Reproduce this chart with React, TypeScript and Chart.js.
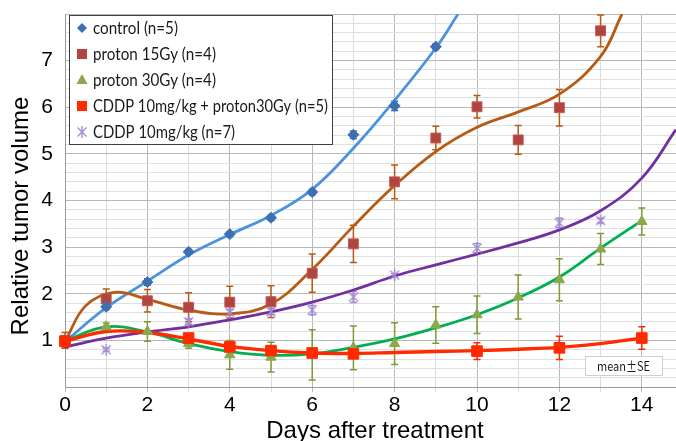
import React, { useEffect, useRef } from 'react';
import { Chart, registerables } from 'chart.js';

Chart.register(...registerables);

// ---------- data ----------
const days = [0, 1, 2, 3, 4, 5, 6, 7, 8, 9, 10, 11, 12, 13, 14];

const seriesLabels = [
  'control (n=5)',
  'proton 15Gy (n=4)',
  'proton 30Gy (n=4)',
  'CDDP 10mg/kg + proton30Gy (n=5)',
  'CDDP 10mg/kg (n=7)',
];

const controlMean = [1.0, 1.72, 2.25, 2.9, 3.28, 3.63, 4.18, 5.41, 6.03, 7.3, null, null, null, null, null];
const controlSE = [0.05, 0.06, 0.07, 0.05, 0.05, 0.06, 0.06, 0.08, 0.1, 0.06, null, null, null, null, null];

const proton15Mean = [1.0, 1.89, 1.85, 1.71, 1.82, 1.83, 2.44, 3.07, 4.4, 5.34, 6.01, 5.3, 5.99, 7.64, null];
const proton15SE = [0.17, 0.21, 0.24, 0.31, 0.34, 0.34, 0.41, 0.4, 0.36, 0.25, 0.24, 0.31, 0.39, 0.34, null];

const proton30Mean = [1.0, 1.29, 1.19, 0.93, 0.69, 0.64, 0.69, 0.84, 0.93, 1.33, 1.55, 1.93, 2.3, 2.96, 3.55];
const proton30SE = [0.1, 0.08, 0.21, 0.1, 0.31, 0.32, 0.54, 0.47, 0.45, 0.39, 0.4, 0.47, 0.45, 0.33, 0.29];

const comboMean = [0.98, null, null, 1.05, 0.86, 0.78, 0.73, 0.71, null, null, 0.77, null, 0.84, null, 1.05];
const comboSE = [0.12, null, null, 0.08, 0.08, 0.1, 0.06, 0.06, null, null, 0.18, null, 0.25, null, 0.24];

const cddpMean = [1.0, 0.8, null, 1.4, 1.6, 1.62, 1.65, 1.93, 2.4, null, 2.98, null, 3.52, 3.57, null];
const cddpSE = [0.05, 0.03, null, 0.06, 0.06, 0.07, 0.1, 0.12, 0.03, null, 0.1, null, 0.1, 0.05, null];

// trend curves
const controlFitX = [0, 1, 2, 3, 4, 5, 6, 7, 8, 9, 9.54];
const controlFitY = [0.97, 1.7, 2.27, 2.83, 3.27, 3.68, 4.24, 5.12, 6.15, 7.27, 8.0];

const proton15FitX = [0, 0.5, 1.2, 2, 3, 4, 5, 6, 7, 8, 9, 10, 11, 12, 13, 13.52];
const proton15FitY = [0.97, 1.74, 2.03, 1.88, 1.65, 1.57, 1.78, 2.52, 3.45, 4.32, 5.05, 5.57, 5.9, 6.28, 7.09, 8.0];

const proton30FitX = [0, 1, 2, 3, 4, 5, 6, 7, 8, 9, 10, 11, 12, 13, 14];
const proton30FitY = [0.99, 1.29, 1.18, 0.93, 0.76, 0.68, 0.71, 0.85, 1.03, 1.27, 1.55, 1.91, 2.36, 2.98, 3.57];

const comboFitX = [0, 1, 2, 3, 4, 5, 6, 7, 8, 9, 10, 11, 12, 13, 14];
const comboFitY = [0.98, 1.19, 1.17, 1.03, 0.87, 0.78, 0.73, 0.72, 0.74, 0.76, 0.78, 0.81, 0.85, 0.93, 1.05];

const cddpFitX = [0, 1, 2, 3, 4, 5, 6, 7, 8, 9, 10, 11, 12, 13, 14, 14.83];
const cddpFitY = [0.86, 1.05, 1.18, 1.29, 1.44, 1.61, 1.82, 2.08, 2.38, 2.62, 2.85, 3.09, 3.37, 3.78, 4.48, 5.52];

const xTickLabels = ['0', '2', '4', '6', '8', '10', '12', '14'];
const yTickLabels = ['1', '2', '3', '4', '5', '6', '7'];
const xAxisTitle = 'Days after treatment';
const yAxisTitle = 'Relative tumor volume';
const noteText = 'mean±SE';

// ---------- styling ----------
const COLORS = {
  controlMarker: '#3d6fb3',
  controlLine: '#4b93dc',
  p15Marker: '#b1443f',
  p15Line: '#b65a14',
  p30Marker: '#8aa84c',
  p30Err: '#7c9a3a',
  p30Line: '#00b050',
  comboMarker: '#ff2a00',
  comboLine: '#ff2a00',
  cddpMarker: '#a48ad2',
  cddpLine: '#7030a0',
};

const X_MIN = 0;
const X_MAX = 14.83;
const Y_MIN = 0;
const Y_MAX = 8;

function toPoints(xs: number[], ys: (number | null)[]) {
  const out: { x: number; y: number }[] = [];
  ys.forEach((v, i) => {
    if (v !== null && v !== undefined) out.push({ x: xs[i], y: v });
  });
  return out;
}

function makeStar(color: string) {
  const c = document.createElement('canvas');
  c.width = 14;
  c.height = 14;
  const g = c.getContext('2d')!;
  g.strokeStyle = color;
  g.lineWidth = 1.4;
  g.beginPath();
  g.moveTo(2.5, 2.5);
  g.lineTo(11.5, 11.5);
  g.moveTo(11.5, 2.5);
  g.lineTo(2.5, 11.5);
  g.moveTo(7, 1);
  g.lineTo(7, 13);
  g.stroke();
  return c;
}

const isInt = (v: number) => Math.abs(v - Math.round(v)) < 1e-6;
const zeroPad = () => ({ left: 0, right: 0, top: 0, bottom: 0 });

export default function App() {
  const ref = useRef<HTMLCanvasElement>(null);

  useEffect(() => {
    document.body.style.margin = '0';
    const star = makeStar(COLORS.cddpMarker);

    const errSeries = [
      { mean: controlMean, se: controlSE, color: COLORS.controlMarker },
      { mean: proton15Mean, se: proton15SE, color: COLORS.p15Line },
      { mean: proton30Mean, se: proton30SE, color: COLORS.p30Err },
      { mean: cddpMean, se: cddpSE, color: COLORS.cddpMarker },
      { mean: comboMean, se: comboSE, color: COLORS.comboMarker },
    ];

    const errorBarPlugin = {
      id: 'errorBars',
      beforeDatasetsDraw(chart: any) {
        const { ctx, scales } = chart;
        const xs = scales.x;
        const ys = scales.y;
        ctx.save();
        ctx.lineWidth = 1.5;
        for (const s of errSeries) {
          ctx.strokeStyle = s.color;
          s.mean.forEach((m, i) => {
            const e = s.se[i];
            if (m === null || e === null) return;
            const px = xs.getPixelForValue(days[i]);
            const top = ys.getPixelForValue(Math.min(m + e, Y_MAX));
            const bot = ys.getPixelForValue(m - e);
            ctx.beginPath();
            ctx.moveTo(px, top);
            ctx.lineTo(px, bot);
            ctx.moveTo(px - 3.5, top);
            ctx.lineTo(px + 3.5, top);
            ctx.moveTo(px - 3.5, bot);
            ctx.lineTo(px + 3.5, bot);
            ctx.stroke();
          });
        }
        ctx.restore();
      },
    };

    const fitText = (ctx: CanvasRenderingContext2D, text: string, x: number, y: number, width: number) => {
      const w = ctx.measureText(text).width;
      const sx = Math.max(0.75, Math.min(1.25, width / w));
      ctx.save();
      ctx.translate(x, y);
      ctx.scale(sx, 1);
      ctx.fillText(text, 0, 0);
      ctx.restore();
    };

    const overlayPlugin = {
      id: 'overlay',
      afterDraw(chart: any) {
        const ctx: CanvasRenderingContext2D = chart.ctx;
        ctx.save();

        // legend box
        const lx = 69, ly = 15, lw = 263, lh = 129;
        ctx.fillStyle = '#ffffff';
        ctx.fillRect(lx, ly, lw, lh);
        ctx.strokeStyle = '#404040';
        ctx.lineWidth = 1;
        ctx.strokeRect(lx + 0.5, ly + 0.5, lw, lh);

        const rowsY = [28, 54, 80, 106, 132];
        const widths = [85, 123, 123, 235, 142];
        const mx = 82;
        rowsY.forEach((ry, i) => {
          ctx.save();
          if (i === 0) {
            ctx.fillStyle = COLORS.controlMarker;
            ctx.beginPath();
            ctx.moveTo(mx, ry - 5);
            ctx.lineTo(mx + 5, ry);
            ctx.lineTo(mx, ry + 5);
            ctx.lineTo(mx - 5, ry);
            ctx.closePath();
            ctx.fill();
          } else if (i === 1) {
            ctx.fillStyle = COLORS.p15Marker;
            ctx.fillRect(mx - 5, ry - 5, 10, 10);
          } else if (i === 2) {
            ctx.fillStyle = COLORS.p30Marker;
            ctx.beginPath();
            ctx.moveTo(mx, ry - 6);
            ctx.lineTo(mx + 5.5, ry + 4);
            ctx.lineTo(mx - 5.5, ry + 4);
            ctx.closePath();
            ctx.fill();
          } else if (i === 3) {
            ctx.fillStyle = COLORS.comboMarker;
            ctx.fillRect(mx - 5, ry - 5, 10, 10);
          } else {
            ctx.drawImage(star, mx - 7, ry - 7);
          }
          ctx.restore();
          ctx.fillStyle = '#1a1a1a';
          ctx.font = '17px Lato, "Open Sans", sans-serif';
          ctx.textBaseline = 'middle';
          ctx.textAlign = 'left';
          fitText(ctx, seriesLabels[i], 93, ry + 1, widths[i]);
        });

        // mean ± SE note
        ctx.fillStyle = '#ffffff';
        ctx.fillRect(585, 356, 77, 19);
        ctx.strokeStyle = '#cfcfcf';
        ctx.strokeRect(585.5, 356.5, 77, 19);
        ctx.fillStyle = '#1a1a1a';
        ctx.font = '13px "Noto Sans CJK JP", "Noto Sans", sans-serif';
        ctx.textBaseline = 'middle';
        fitText(ctx, noteText, 597, 366, 53);

        // axis titles
        ctx.fillStyle = '#000000';
        ctx.font = '24px "Liberation Sans", Arial, sans-serif';
        ctx.textAlign = 'center';
        ctx.textBaseline = 'alphabetic';
        ctx.fillText(xAxisTitle, 375, 438);
        ctx.save();
        ctx.translate(28, 216);
        ctx.rotate(-Math.PI / 2);
        ctx.fillText(yAxisTitle, 0, 0);
        ctx.restore();

        ctx.restore();
      },
    };

    const markerBase = { showLine: false, clip: false as any, order: 0 };
    const fitBase = { pointRadius: 0, pointHoverRadius: 0, tension: 0.4, borderWidth: 2.8, fill: false, clip: 0 as any, order: 1 };

    const chart = new Chart(ref.current!, {
      type: 'line',
      data: {
        datasets: [
          {
            ...markerBase,
            label: seriesLabels[3],
            data: toPoints(days, comboMean),
            pointStyle: 'rect',
            pointRadius: 7.5,
            pointBackgroundColor: COLORS.comboMarker,
            pointBorderColor: COLORS.comboMarker,
            borderColor: COLORS.comboMarker,
          },
          {
            ...markerBase,
            label: seriesLabels[0],
            data: toPoints(days, controlMean),
            pointStyle: 'rectRot',
            pointRadius: 5.5,
            pointBackgroundColor: COLORS.controlMarker,
            pointBorderColor: COLORS.controlMarker,
            borderColor: COLORS.controlMarker,
          },
          {
            ...markerBase,
            label: seriesLabels[1],
            data: toPoints(days, proton15Mean),
            pointStyle: 'rect',
            pointRadius: 7,
            pointBackgroundColor: COLORS.p15Marker,
            pointBorderColor: '#c05a55',
            borderColor: COLORS.p15Marker,
          },
          {
            ...markerBase,
            label: seriesLabels[2],
            data: toPoints(days, proton30Mean),
            pointStyle: 'triangle',
            pointRadius: 6,
            pointBackgroundColor: COLORS.p30Marker,
            pointBorderColor: COLORS.p30Marker,
            borderColor: COLORS.p30Marker,
          },
          {
            ...markerBase,
            label: seriesLabels[4],
            data: toPoints(days, cddpMean),
            pointStyle: star as any,
            pointRadius: 7,
            borderColor: COLORS.cddpMarker,
          },
          { ...fitBase, label: 'fit combo', data: toPoints(comboFitX, comboFitY), borderColor: COLORS.comboLine, borderWidth: 3.4 },
          { ...fitBase, label: 'fit p30', data: toPoints(proton30FitX, proton30FitY), borderColor: COLORS.p30Line },
          { ...fitBase, label: 'fit cddp', data: toPoints(cddpFitX, cddpFitY), borderColor: COLORS.cddpLine },
          { ...fitBase, label: 'fit p15', data: toPoints(proton15FitX, proton15FitY), borderColor: COLORS.p15Line },
          { ...fitBase, label: 'fit control', data: toPoints(controlFitX, controlFitY), borderColor: COLORS.controlLine },
        ] as any,
      },
      options: {
        responsive: false,
        animation: false,
        events: [],
        layout: { autoPadding: false, padding: { top: 14, right: 0, bottom: 0, left: 0 } },
        plugins: {
          legend: { display: false },
          tooltip: { enabled: false },
          title: { display: false },
        },
        scales: {
          x: {
            type: 'linear',
            min: X_MIN,
            max: X_MAX,
            afterBuildTicks: (axis: any) => {
              const t: { value: number }[] = [];
              for (let d = 0; d <= 14; d++) t.push({ value: d });
              axis.ticks = t;
            },
            afterFit: (axis: any) => {
              axis.height = 54;
              axis.paddingRight = 0;
              axis.paddingLeft = 0;
              axis.getPadding = zeroPad;
            },
            grid: {
              color: (c: any) => (c.tick && Math.round(c.tick.value) % 2 === 0 ? '#b8b8b8' : '#dcdcdc'),
              lineWidth: 1,
              drawTicks: true,
              tickLength: 5,
            },
            border: { color: '#9a9a9a', width: 1 },
            ticks: {
              autoSkip: false,
              maxRotation: 0,
              padding: 1,
              color: '#000000',
              font: { family: '"Liberation Sans", Arial, sans-serif', size: 21 },
              callback: (v: any) => {
                const s = String(Math.round(Number(v)));
                return isInt(Number(v)) && xTickLabels.includes(s) ? s : '';
              },
            },
            title: { display: false },
          },
          y: {
            type: 'linear',
            min: Y_MIN,
            max: Y_MAX,
            afterBuildTicks: (axis: any) => {
              const t: { value: number }[] = [];
              for (let k = 0; k <= 40; k++) t.push({ value: k / 5 });
              axis.ticks = t;
            },
            afterFit: (axis: any) => {
              axis.width = 65;
              axis.paddingTop = 0;
              axis.paddingBottom = 0;
              axis.getPadding = zeroPad;
            },
            grid: {
              color: (c: any) => (c.tick && isInt(c.tick.value) ? '#b8b8b8' : '#e0e0e0'),
              lineWidth: 1,
              drawTicks: false,
            },
            border: { color: '#9a9a9a', width: 1 },
            ticks: {
              autoSkip: false,
              padding: 12,
              color: '#000000',
              font: { family: '"Liberation Sans", Arial, sans-serif', size: 21 },
              callback: (v: any) => {
                const n = Number(v);
                if (!isInt(n)) return '';
                const s = String(Math.round(n));
                return yTickLabels.includes(s) ? s : '';
              },
            },
            title: { display: false },
          },
        },
      } as any,
      plugins: [errorBarPlugin, overlayPlugin],
    });

    return () => chart.destroy();
  }, []);

  return (
    <div style={{ position: 'fixed', left: 0, top: 0, width: 676, height: 441, background: '#ffffff' }}>
      <canvas ref={ref} width={676} height={441} style={{ width: 676, height: 441, display: 'block' }} />
    </div>
  );
}
